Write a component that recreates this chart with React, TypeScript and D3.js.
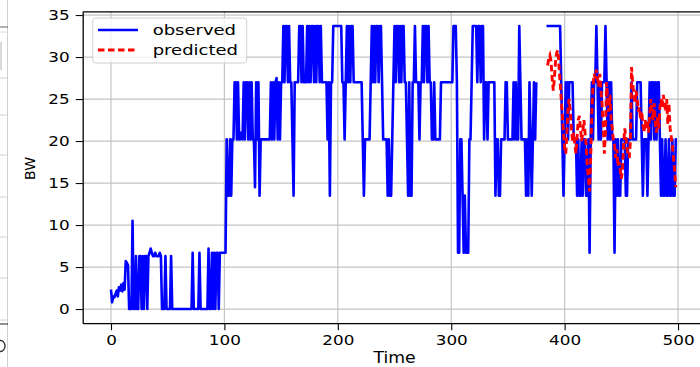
import React, { FC } from 'react';
import * as d3 from 'd3';

// observed bandwidth, training part (t = 0 .. 375)
const trainStart = 0;
const observedTrain = [
  2.3, 0.8, 1.5, 1.4, 1.8, 2.2, 1.5, 2.6, 2.2, 2.9,
  2.1, 3.1, 2.3, 5.7, 5.5, 5.2, 0, 0, 0, 10.5,
  0, 0, 6.3, 0, 0, 6.3, 6.3, 0, 6.3, 0,
  6.3, 6.3, 0, 6.3, 6.7, 7.2, 6.7, 6.3, 6.3, 6.7,
  6.3, 6.3, 6.3, 6.7, 6.3, 0, 0, 0, 6.3, 0,
  0, 0, 0, 6.3, 0, 0, 0, 0, 0, 0,
  0, 0, 0, 0, 0, 0, 0, 0, 0, 0,
  0, 0, 6.7, 0, 0, 0, 0, 0, 6.7, 0,
  0, 0, 0, 0, 0, 0, 7.2, 0, 0, 6.7,
  0, 6.7, 0, 6.7, 6.7, 0, 6.7, 6.7, 6.7, 6.7,
  6.7, 6.7, 20.2, 13.5, 13.5, 20.2, 13.5, 20.2, 20.2, 27,
  27, 20.2, 27, 20.2, 20.2, 21, 20.2, 27, 20.2, 27,
  27, 20.2, 27, 20.2, 27, 20.2, 20.2, 14.5, 27, 20.2,
  27, 13.5, 20.2, 20.2, 20.2, 20.2, 20.2, 20.2, 20.2, 20.2,
  20.2, 27, 20.2, 27, 20.2, 27, 27.5, 20.2, 27, 20.2,
  27, 27, 33.7, 27, 33.7, 33.7, 27, 33.7, 27, 27,
  20.2, 13.5, 27, 27, 27, 27, 33.7, 33.7, 27, 33.7,
  27, 27, 27, 33.7, 27, 33.7, 27, 33.7, 33.7, 27,
  33.7, 27, 33.7, 33.7, 27, 33.7, 27, 27, 27, 27,
  27, 20.2, 27, 13.5, 27, 27, 33.7, 33.7, 33.7, 33.7,
  33.7, 33.7, 33.7, 33.7, 27, 27, 20.2, 27, 33.7, 27,
  33.7, 27, 33.7, 33.7, 27, 27, 27, 27, 27, 27,
  27, 27, 20.2, 13.5, 20.2, 20.2, 20.2, 20.2, 20.2, 27,
  33.7, 27, 33.7, 27, 33.7, 33.7, 27, 33.7, 33.7, 27,
  20.2, 20.2, 20.2, 20.2, 13.5, 20.2, 13.5, 13.5, 20.2, 27,
  33.7, 27, 33.7, 33.7, 27, 33.7, 27, 33.7, 33.7, 27,
  27, 20.2, 13.5, 27, 13.5, 13.5, 27, 27, 33.7, 27,
  27, 27, 20.2, 27, 27, 33.7, 27, 33.7, 33.7, 27,
  33.7, 27, 27, 20.2, 20.2, 27, 20.2, 20.2, 20.2, 20.2,
  20.2, 27, 27, 27, 27, 27, 27, 27, 27, 27,
  27, 27, 33.7, 33.7, 33.7, 27, 6.7, 6.7, 20.2, 20.2,
  13.5, 6.7, 13.5, 6.7, 6.7, 6.7, 20.2, 20.2, 27, 33.7,
  33.7, 33.7, 33.7, 27, 33.7, 33.7, 27, 33.7, 33.7, 20.2,
  27, 27, 20.2, 27, 27, 27, 27, 27, 27, 13.5,
  20.2, 20.2, 13.5, 13.5, 20.2, 20.2, 20.2, 20.2, 27, 27,
  20.2, 20.2, 20.2, 20.2, 20.2, 27, 20.2, 27, 20.2, 20.2,
  33.7, 27, 20.2, 20.2, 20.2, 20.2, 13.5, 20.2, 13.5, 27,
  20.2, 13.5, 20.2, 27, 20.2, 27,
];

// observed bandwidth, test part (t = 384 .. 499)
const testStart = 384;
const observedTest = [
  33.7, 33.7, 33.7, 33.7, 33.7, 33.7, 33.7, 33.7, 33.7, 33.7,
  33.7, 33.7, 33.7, 27, 20.2, 13.5, 20.2, 27, 27, 20.2,
  27, 27, 27, 27, 20.2, 20.2, 20.2, 13.5, 20.2, 13.5,
  13.5, 20.2, 13.5, 20.2, 20.2, 13.5, 13.5, 20.2, 6.7, 20.2,
  27, 20.2, 27, 27, 33.7, 27, 20.2, 27, 20.2, 27,
  27, 27, 33.7, 27, 20.2, 27, 20.2, 27, 20.2, 20.2,
  6.7, 20.2, 13.5, 20.2, 13.5, 13.5, 20.2, 20.2, 20.2, 20.2,
  13.5, 13.5, 20.2, 20.2, 20.2, 27, 20.2, 20.2, 20.2, 20.2,
  27, 27, 27, 27, 20.2, 13.5, 20.2, 20.2, 20.2, 13.5,
  20.2, 27, 20.2, 27, 27, 20.2, 27, 20.2, 27, 27,
  20.2, 13.5, 20.2, 13.5, 13.5, 20.2, 13.5, 13.5, 20.2, 13.5,
  13.5, 20.2, 13.5, 13.5, 20.2, 20.2,
];

// predicted bandwidth (t = 385 .. 498)
const predictedStart = 385;
const predicted = [
  29.0, 29.8, 30.2, 29.5, 27.5, 26.0, 27.5, 29.5, 30.5, 30.8,
  29.0, 27.0, 25.0, 23.0, 21.0, 19.0, 18.5, 21.0, 24.0, 25.0,
  23.5, 21.5, 20.0, 21.0, 19.5, 18.5, 20.5, 22.5, 23.0, 21.5,
  20.0, 21.0, 22.5, 21.0, 19.5, 17.0, 15.5, 14.0, 18.0, 23.5,
  26.5, 28.0, 27.5, 28.5, 27.5, 26.5, 28.0, 26.0, 24.5, 22.0,
  18.5, 21.0, 27.0, 25.0, 23.5, 25.5, 22.5, 21.5, 20.0, 19.5,
  18.0, 19.0, 17.0, 17.5, 16.5, 15.5, 16.5, 19.5, 21.5, 20.5,
  19.0, 18.5, 18.0, 20.0, 28.8, 27.0, 25.5, 24.5, 26.0, 25.0,
  23.5, 24.0, 22.5, 23.5, 22.0, 21.0, 22.5, 21.5, 22.5, 21.0,
  23.0, 25.0, 23.5, 22.5, 24.5, 22.0, 21.0, 23.0, 21.5, 24.0,
  25.0, 24.0, 25.5, 24.5, 23.5, 25.0, 22.0, 24.5, 21.5, 20.5,
  19.5, 18.0, 16.5, 14.5,
];

const xTicks = [0, 100, 200, 300, 400, 500];
const yTicks = [0, 5, 10, 15, 20, 25, 30, 35];
const seriesLabels = ['observed', 'predicted'];

const W = 700;
const H = 367;
const font = "'DejaVu Sans', sans-serif";

const App: FC = () => (
  <div
    style={{ position: 'absolute', left: 0, top: 0, width: W, height: H }}
    ref={(elem) => {
      if (!elem) {
        return;
      }
      const svg = chart();
      if (!svg) {
        return;
      }
      elem.innerHTML = '';
      elem.appendChild(svg);
      // the picture is a bit wider than tall, so widen horizontal text
      d3.select(svg)
        .selectAll<SVGTextElement, unknown>('text.wide')
        .each(function () {
          const k = Number(this.getAttribute('data-k') || 1.2);
          this.setAttribute('textLength', String(this.getComputedTextLength() * k));
          this.setAttribute('lengthAdjust', 'spacingAndGlyphs');
        });
    }}
  />
);

const chart = () => {
  const tMax = testStart + observedTest.length - 1;
  const vMax = d3.max([...observedTrain, ...observedTest, ...predicted]) || 0;
  const xPad = tMax * 0.05;
  const yPad = vMax * 0.05;

  const plot = { left: 82.7, right: 705.2, top: 11.8, bottom: 323.2 };
  const x = d3
    .scaleLinear()
    .domain([-xPad, tMax + xPad])
    .range([plot.left, plot.right]);
  const y = d3
    .scaleLinear()
    .domain([-yPad, vMax + yPad])
    .range([plot.bottom, plot.top]);

  const svg = d3
    .create('svg')
    .attr('width', W)
    .attr('height', H)
    .attr('viewBox', `0 0 ${W} ${H}`)
    .style('display', 'block')
    .style('background', '#fff');

  // bits of a neighbouring figure cut off at the left edge
  const edge = svg.append('g');
  edge.append('line').attr('x1', 7.5).attr('x2', 7.5).attr('y1', 0).attr('y2', H)
    .attr('stroke', '#cfcfcf').attr('stroke-width', 1);
  [[27, '#666'], [32, '#ddd'], [78, '#d0d0d0'], [115, '#d0d0d0'], [155, '#d0d0d0'],
    [197, '#d0d0d0'], [237, '#d0d0d0'], [278, '#d0d0d0'], [320, '#d0d0d0'], [324, '#222']]
    .forEach(([yy, c]) => {
      edge.append('line').attr('x1', 0).attr('x2', 8).attr('y1', yy).attr('y2', yy)
        .attr('stroke', c as string).attr('stroke-width', 1);
    });
  edge.append('line').attr('x1', 1).attr('x2', 1).attr('y1', 42).attr('y2', 70)
    .attr('stroke', '#ccc').attr('stroke-width', 1.5);
  // cut-off glyph of the neighbour figure
  edge.append('ellipse').attr('cx', 0.5).attr('cy', 346).attr('rx', 4.5).attr('ry', 5.5)
    .attr('fill', 'none').attr('stroke', '#333').attr('stroke-width', 1.4);

  // grid
  const grid = svg.append('g').attr('stroke', '#c4c4c4').attr('stroke-width', 1.2);
  grid.selectAll('line.gx').data(xTicks).join('line')
    .attr('x1', (d) => x(d)).attr('x2', (d) => x(d))
    .attr('y1', plot.top).attr('y2', plot.bottom);
  grid.selectAll('line.gy').data(yTicks).join('line')
    .attr('x1', plot.left).attr('x2', plot.right)
    .attr('y1', (d) => y(d)).attr('y2', (d) => y(d));

  // lines
  const line = (start: number) =>
    d3.line<number>().x((d, i) => x(start + i)).y((d) => y(d));

  const obs = svg.append('g')
    .attr('fill', 'none')
    .attr('stroke', '#0000ff')
    .attr('stroke-width', 2.6)
    .attr('stroke-linejoin', 'round');
  obs.append('path').attr('d', line(trainStart)(observedTrain));
  obs.append('path').attr('d', line(testStart)(observedTest));

  svg.append('path')
    .attr('d', line(predictedStart)(predicted))
    .attr('fill', 'none')
    .attr('stroke', '#ff0000')
    .attr('stroke-width', 2.9)
    .attr('stroke-dasharray', '6.5,3.5');

  // axes
  const xAxis = svg.append('g')
    .attr('transform', `translate(0,${plot.bottom})`)
    .call(d3.axisBottom(x).tickValues(xTicks).tickSize(7).tickPadding(5).tickSizeOuter(0));
  const yAxis = svg.append('g')
    .attr('transform', `translate(${plot.left},0)`)
    .call(d3.axisLeft(y).tickValues(yTicks).tickSize(7).tickPadding(6).tickSizeOuter(0));
  [xAxis, yAxis].forEach((g) => {
    g.select('.domain').attr('stroke', '#000').attr('stroke-width', 1.3);
    g.selectAll('.tick line').attr('stroke', '#000').attr('stroke-width', 1.1);
    g.selectAll('.tick text')
      .attr('class', 'wide')
      .attr('fill', '#000')
      .attr('font-family', font)
      .attr('font-size', 14);
  });
  // top and right spines
  svg.append('line').attr('x1', plot.left).attr('x2', plot.right)
    .attr('y1', plot.top).attr('y2', plot.top)
    .attr('stroke', '#000').attr('stroke-width', 1.3);
  svg.append('line').attr('x1', plot.right).attr('x2', plot.right)
    .attr('y1', plot.top).attr('y2', plot.bottom)
    .attr('stroke', '#000').attr('stroke-width', 1.3);

  // axis labels
  svg.append('text')
    .attr('class', 'wide')
    .attr('data-k', 1.15)
    .attr('x', (x(0) + x(500)) / 2)
    .attr('y', 363)
    .attr('text-anchor', 'middle')
    .attr('font-family', font)
    .attr('font-size', 15)
    .text('Time');
  svg.append('text')
    .attr('transform', `translate(35,${(plot.top + plot.bottom) / 2 + 1}) rotate(-90)`)
    .attr('text-anchor', 'middle')
    .attr('font-family', font)
    .attr('font-size', 14)
    .text('BW');

  // legend
  const lg = svg.append('g');
  lg.append('rect')
    .attr('x', 92.7).attr('y', 18).attr('width', 154).attr('height', 45).attr('rx', 3)
    .attr('fill', '#fff').attr('fill-opacity', 0.8)
    .attr('stroke', '#d0d0d0').attr('stroke-width', 1);
  const styles = [
    { color: '#0000ff', dash: null, width: 2.6 },
    { color: '#ff0000', dash: '6.5,3.5', width: 2.9 },
  ];
  seriesLabels.forEach((label, i) => {
    const cy = 30 + i * 20;
    lg.append('line')
      .attr('x1', 98).attr('x2', 138).attr('y1', cy).attr('y2', cy)
      .attr('stroke', styles[i].color)
      .attr('stroke-width', styles[i].width)
      .attr('stroke-dasharray', styles[i].dash);
    lg.append('text')
      .attr('class', 'wide')
      .attr('data-k', 1.24)
      .attr('x', 152.7).attr('y', cy + 5)
      .attr('font-family', font)
      .attr('font-size', 14.5)
      .text(label);
  });

  return svg.node();
};

export default App;
